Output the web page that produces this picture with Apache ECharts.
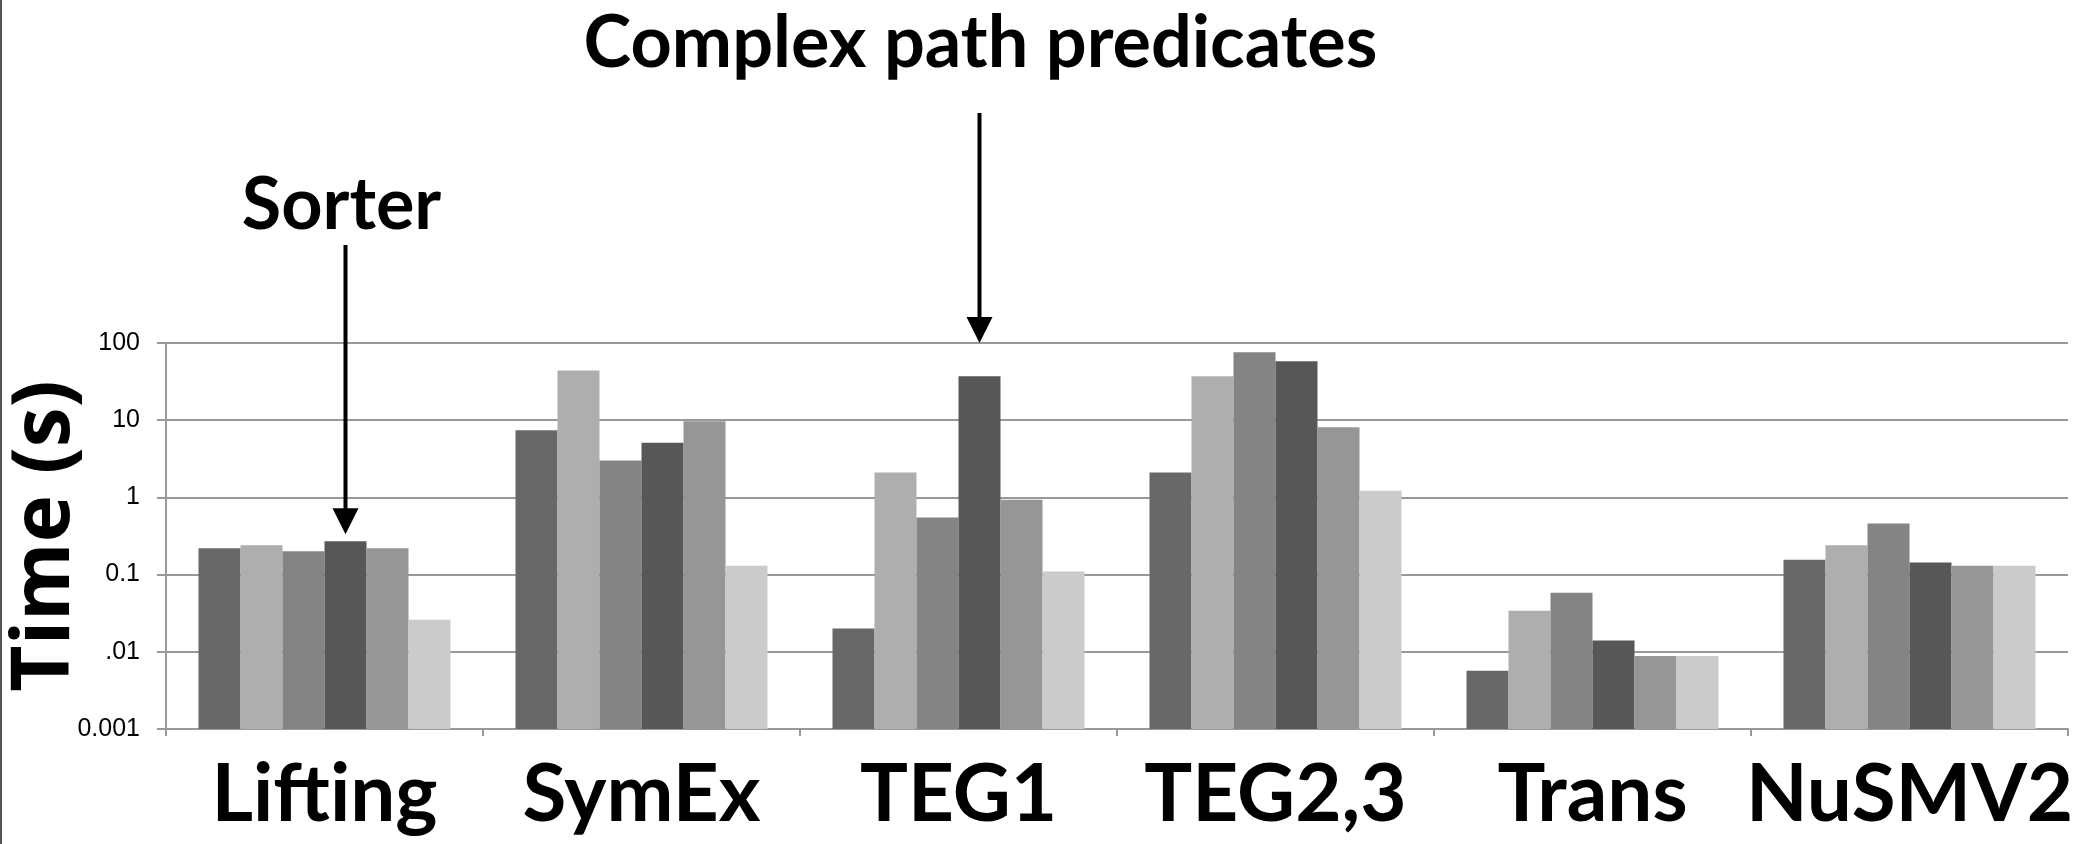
<!DOCTYPE html>
<html>
<head>
<meta charset="utf-8">
<title>Time (s)</title>
<script src="https://cdn.jsdelivr.net/npm/echarts@6/dist/echarts.min.js"></script>
<style>
  html, body {
    margin: 0;
    padding: 0;
    background: #fff;
  }
  #chart {
    width: 2080px;
    height: 844px;
  }
</style>
</head>
<body>
<div id="chart"></div>
<script>
  var categories = ['Lifting', 'SymEx', 'TEG1', 'TEG2,3', 'Trans', 'NuSMV2'];
  var tickLabels = ['0.001', '.01', '0.1', '1', '10', '100'];

  // seconds per benchmark, six runs each
  var run1 = [0.22, 7.4, 0.02, 2.1, 0.0057, 0.156];
  var run2 = [0.24, 44, 2.1, 37, 0.034, 0.24];
  var run3 = [0.2, 3.0, 0.55, 76, 0.058, 0.46];
  var run4 = [0.27, 5.1, 37, 58, 0.014, 0.143];
  var run5 = [0.22, 9.7, 0.93, 8.1, 0.0088, 0.13];
  var run6 = [0.026, 0.13, 0.11, 1.22, 0.0088, 0.13];

  var runs = [run1, run2, run3, run4, run5, run6];
  var colors = ['#686868', '#aeaeae', '#848484', '#575757', '#969696', '#cbcbcb'];

  // log scale with floor at 0.001: plot log10(v) + 3 so bars grow from the bottom
  function toLog(arr) {
    return arr.map(function (v) { return Math.log10(v) + 3; });
  }

  var series = runs.map(function (run, i) {
    return {
      type: 'bar',
      name: 'run' + (i + 1),
      data: toLog(run),
      barGap: 0,
      barCategoryGap: '20.5%',
      silent: true,
      itemStyle: { color: colors[i] }
    };
  });

  var chart = echarts.init(document.getElementById('chart'));
  chart.setOption({
    animation: false,
    grid: { left: 166, right: 12, top: 343, bottom: 115, outerBoundsMode: 'none' },
    xAxis: {
      type: 'category',
      data: categories,
      axisLine: { lineStyle: { color: '#999', width: 2 } },
      axisTick: { show: true, length: 7, lineStyle: { color: '#999', width: 2 } },
      axisLabel: {
        interval: 0,
        margin: 26,
        color: '#000',
        fontFamily: 'Lato',
        fontWeight: 'bold',
        fontSize: 80
      }
    },
    yAxis: {
      type: 'value',
      min: 0,
      max: 5,
      interval: 1,
      axisLine: { show: true, lineStyle: { color: '#999', width: 2 } },
      axisTick: { show: true, length: 9, lineStyle: { color: '#999', width: 2 } },
      splitLine: { lineStyle: { color: '#999', width: 2 } },
      axisLabel: {
        margin: 26,
        color: '#000',
        fontFamily: 'Liberation Sans',
        fontSize: 25,
        formatter: function (v) { return tickLabels[v]; }
      }
    },
    series: series
  });

  // annotation arrows, placed from the bar layout
  function arrow(x, yStart, yTip) {
    return {
      type: 'group',
      children: [
        { type: 'line', shape: { x1: x, y1: yStart, x2: x, y2: yTip - 20 }, style: { stroke: '#000', lineWidth: 4 } },
        { type: 'polygon', shape: { points: [[x - 13, yTip - 26], [x + 13, yTip - 26], [x, yTip]] }, style: { fill: '#000' } }
      ]
    };
  }
  function label(text, x, y) {
    return {
      type: 'text', x: x, y: y,
      style: {
        text: text, fill: '#000', fontFamily: 'Lato', fontWeight: 'bold', fontSize: 72,
        align: 'center', verticalAlign: 'middle'
      }
    };
  }

  var data4 = chart.getModel().getSeriesByIndex(3).getData();
  var sorterBar = data4.getItemLayout(0);
  var sorterX = sorterBar.x + sorterBar.width / 2;
  var sorterTop = Math.min(sorterBar.y, sorterBar.y + sorterBar.height);
  var tegBar = data4.getItemLayout(2);
  var tegX = tegBar.x + tegBar.width / 2;
  var gridTop = chart.convertToPixel({ yAxisIndex: 0 }, 5);
  var gridMid = chart.convertToPixel({ yAxisIndex: 0 }, 2.5);

  chart.setOption({
    graphic: [
      { type: 'line', shape: { x1: 1, y1: 0, x2: 1, y2: 844 }, style: { stroke: '#555', lineWidth: 2 } },
      {
        type: 'text', x: 46, y: gridMid, rotation: Math.PI / 2,
        style: {
          text: 'Time (s)', fill: '#000', fontFamily: 'Open Sans', fontWeight: 'bold', fontSize: 80,
          align: 'center', verticalAlign: 'middle'
        }
      },
      arrow(sorterX, 245, sorterTop - 7),
      arrow(tegX, 113, gridTop),
      label('Sorter', sorterX - 4, 206),
      label('Complex path predicates', tegX + 1, 44)
    ]
  });
</script>
</body>
</html>
